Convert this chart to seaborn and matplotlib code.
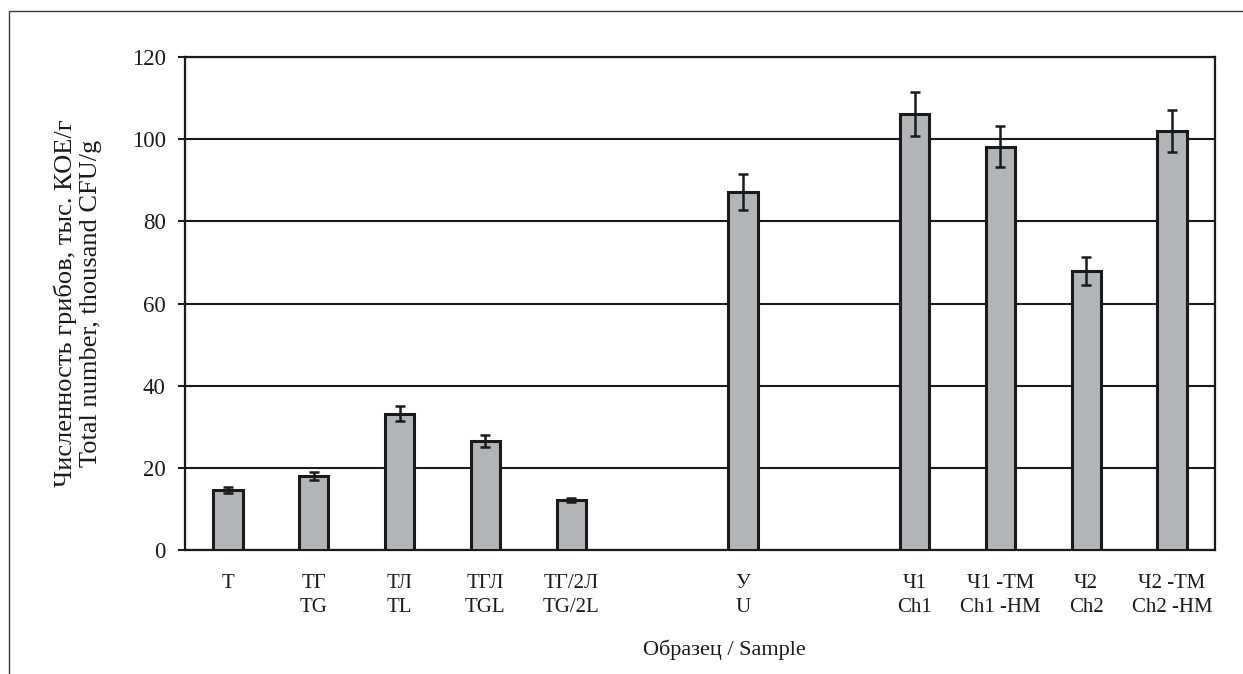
import matplotlib
matplotlib.use("Agg")
import matplotlib.pyplot as plt
from matplotlib.patches import Rectangle
import numpy as np
import pandas as pd
import seaborn as sns

# Sample slots along the x axis (None = empty slot between groups)
slot_labels = ["Т", "ТГ\nTG", "ТЛ\nTL", "ТГЛ\nTGL", "ТГ/2Л\nTG/2L", None,
               "У\nU", None, "Ч1\nCh1", "Ч1 -ТМ\nCh1 -HM", "Ч2\nCh2", "Ч2 -ТМ\nCh2 -HM"]
# Fungal counts, thousand CFU/g, and their errors
counts = [14.6, 18.1, 33.2, 26.5, 12.2, None, 87.1, None, 106.1, 98.2, 67.8, 101.9]
errors = [0.7, 1.0, 1.8, 1.4, 0.4, None, 4.4, None, 5.3, 5.0, 3.4, 5.1]

y_ticks = [0, 20, 40, 60, 80, 100, 120]

sns.set_style("white")
plt.rcParams["font.family"] = ["Liberation Serif", "DejaVu Serif"]

df = pd.DataFrame({
    "slot": [i for i, v in enumerate(counts) if v is not None],
    "count": [v for v in counts if v is not None],
    "err": [e for e in errors if e is not None],
})

fig = plt.figure(figsize=(12.43, 6.74), dpi=100)
ax = fig.add_axes([185 / 1243, 1 - 550 / 674, 1030 / 1243, 493 / 674])

sns.barplot(data=df, x="slot", y="count", order=list(range(len(slot_labels))),
            color="#b3b4b8", saturation=1, width=0.34, edgecolor="#1a1a1a",
            linewidth=2.2, errorbar=None, ax=ax, zorder=3)

ax.errorbar(df["slot"], df["count"], yerr=df["err"], fmt="none", ecolor="#1a1a1a",
            elinewidth=1.8, capsize=3.6, capthick=1.8, zorder=4)

ax.set_xlim(-0.5, len(slot_labels) - 0.5)
ax.set_ylim(0, 120)
ax.set_yticks(y_ticks)
ax.set_yticklabels([str(t) for t in y_ticks])
ax.yaxis.grid(True, color="#1a1a1a", linewidth=1.5)
ax.set_axisbelow(True)

ax.set_xticks(range(len(slot_labels)))
ax.set_xticklabels([s if s else "" for s in slot_labels], linespacing=1.4)
ax.set_xticks(np.arange(-0.5, len(slot_labels), 1.0), minor=True)
ax.tick_params(axis="x", which="major", length=0, pad=17, labelsize=15, colors="#1a1a1a")
ax.tick_params(axis="x", which="minor", length=5, width=1.5, direction="out", color="#1a1a1a")
ax.tick_params(axis="y", which="major", left=True, length=5, width=1.5, pad=9,
               labelsize=16.5, colors="#1a1a1a")

for side in ["left", "right", "top", "bottom"]:
    ax.spines[side].set_visible(True)
    ax.spines[side].set_color("#1a1a1a")
    ax.spines[side].set_linewidth(1.6)

ax.set_xlabel("Образец / Sample", fontsize=16, color="#1a1a1a")
ax.xaxis.set_label_coords(0.524, -0.203)
ax.xaxis.label.set_va("center")
ax.set_ylabel("Численность грибов, тыс. КОЕ/г\nTotal number, thousand CFU/g",
              fontsize=19, color="#1a1a1a", linespacing=1.15)
ax.yaxis.set_label_coords(-0.104, 0.5)
ax.yaxis.label.set_va("center")

# Outer frame around the figure
fig.patches.append(Rectangle((9 / 1243, -0.1), 1.2, 1.1 - 11 / 674,
                             transform=fig.transFigure, fill=False,
                             edgecolor="#3a3a3a", linewidth=1.0))

fig.savefig("out.png", dpi=100)
